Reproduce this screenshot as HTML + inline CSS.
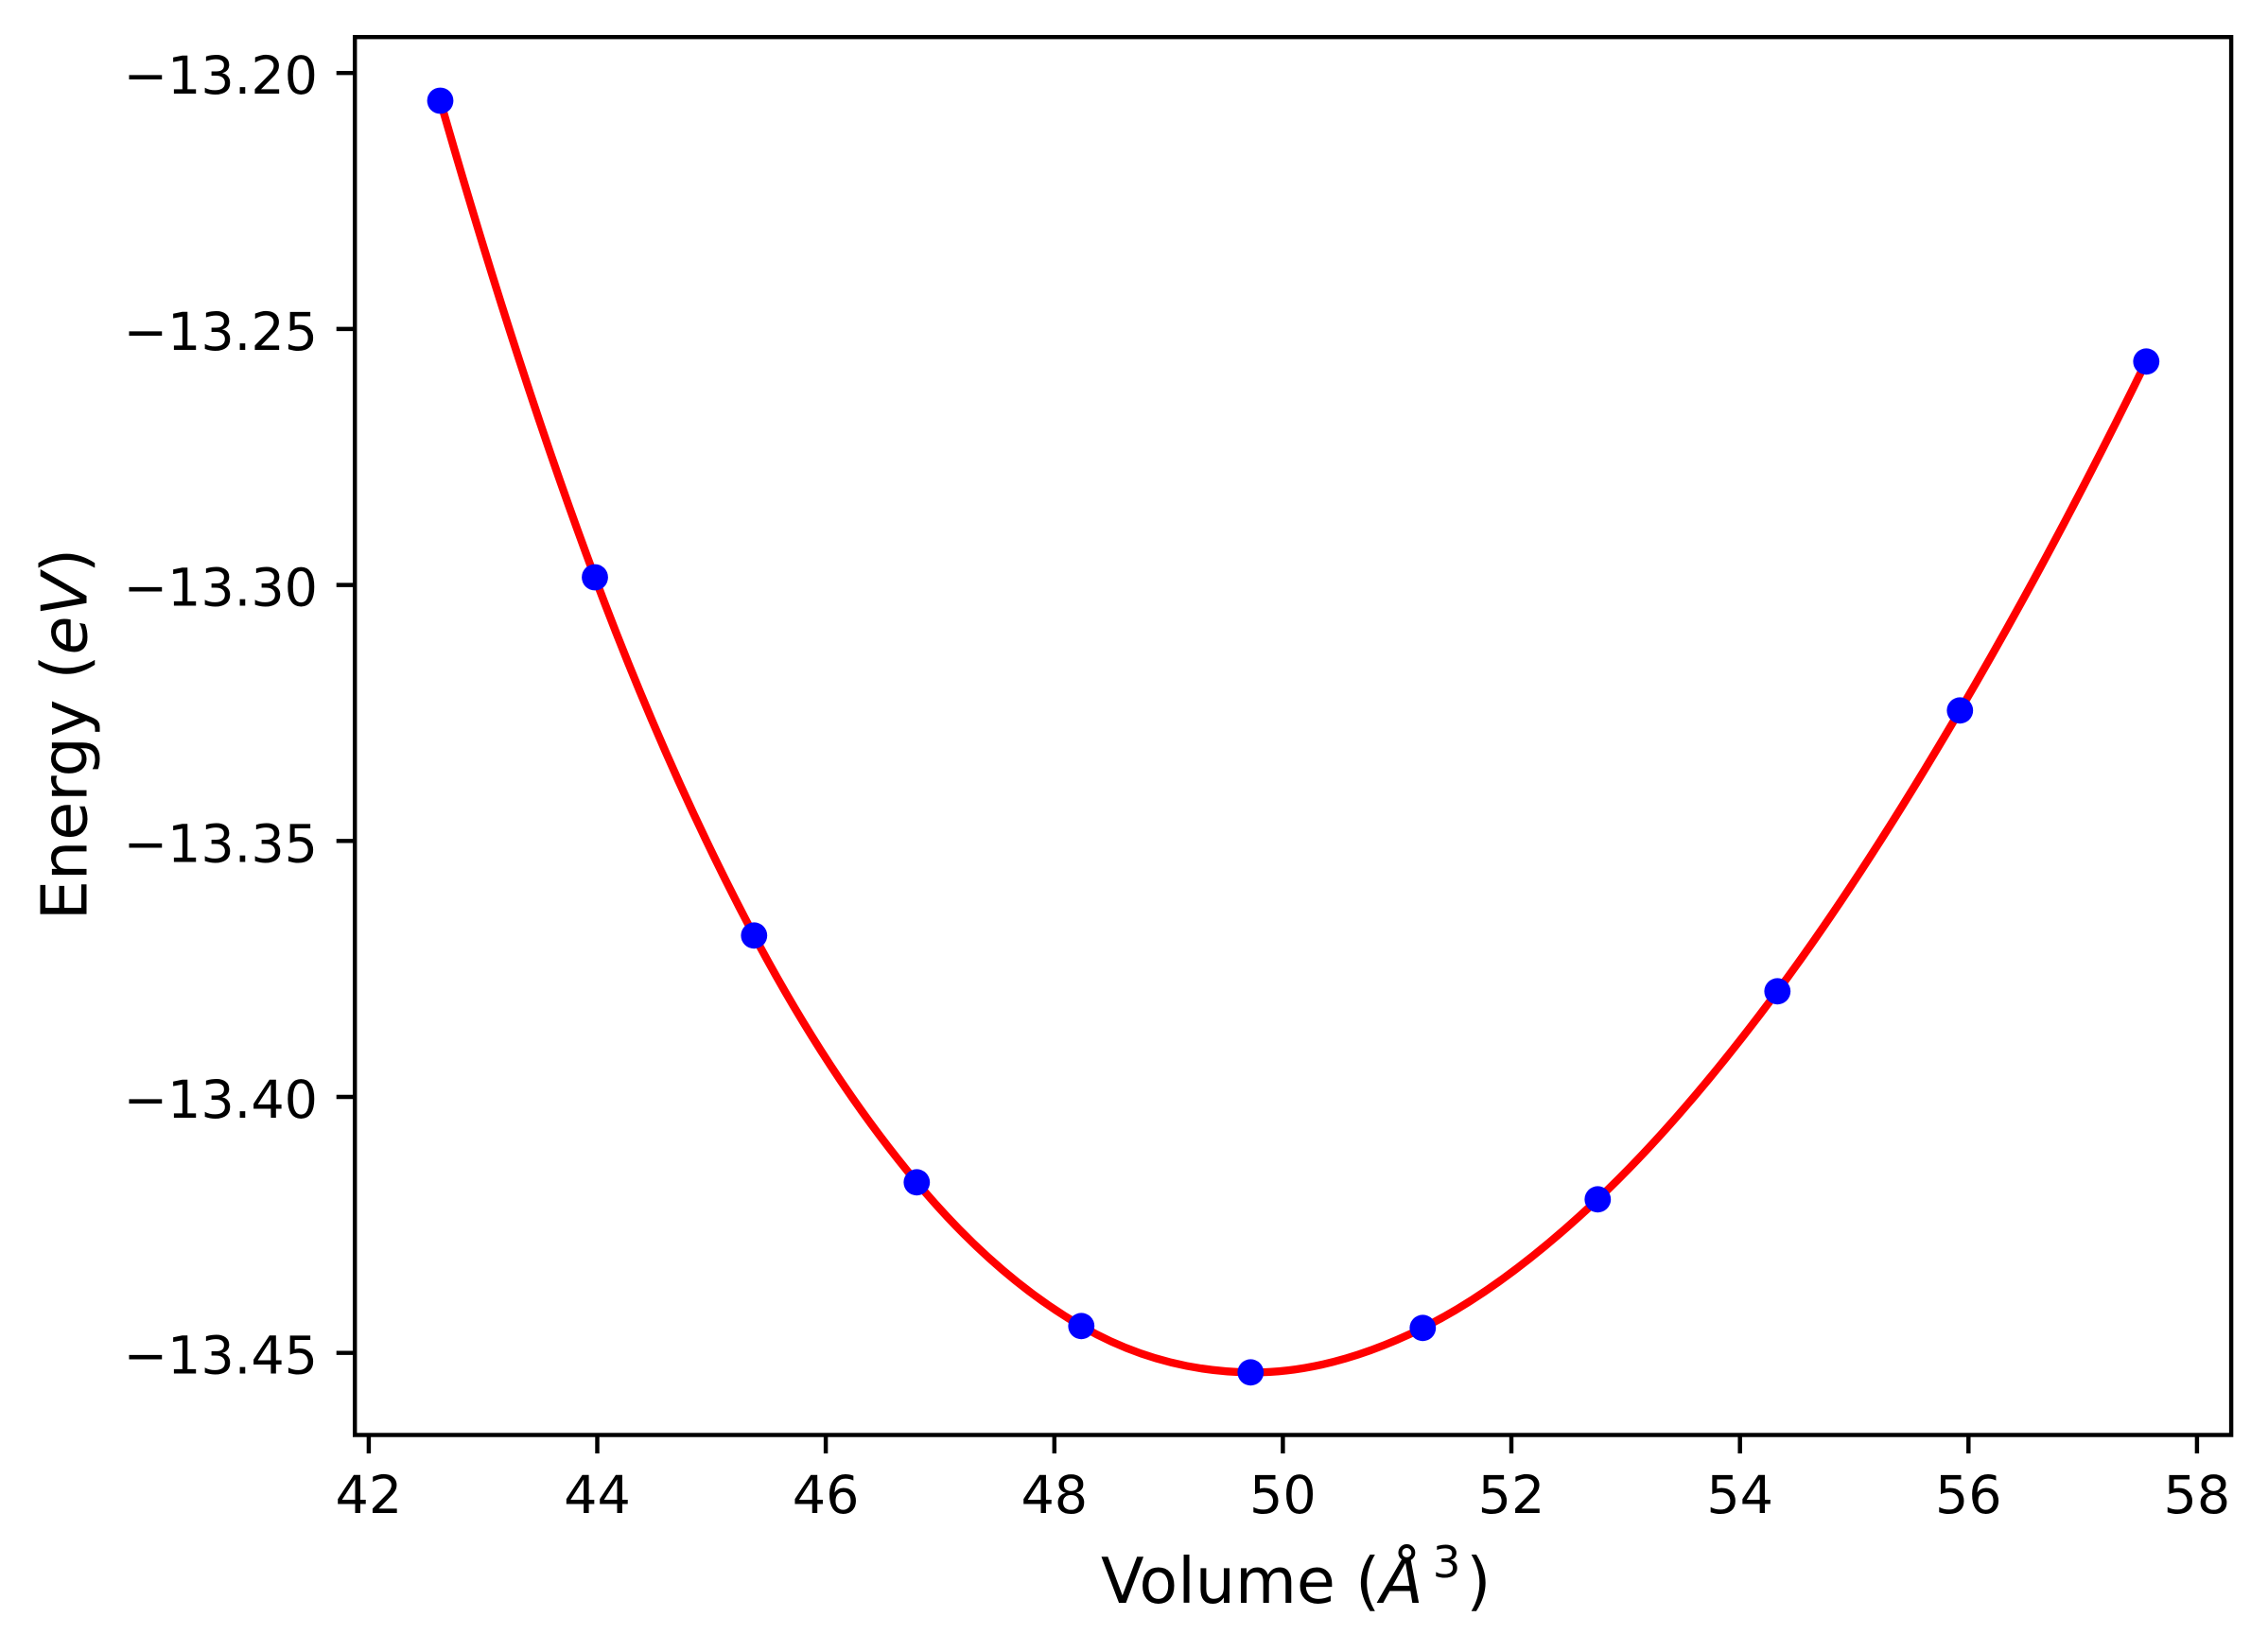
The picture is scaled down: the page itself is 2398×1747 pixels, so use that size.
<!DOCTYPE html>
<html>
<head>
<meta charset="utf-8">
<style>
  html, body { margin: 0; padding: 0; background: #ffffff; }
  svg { display: block; }
  text { font-family: "DejaVu Sans", "Liberation Sans", sans-serif; fill: #000; }
</style>
</head>
<body>
<svg width="2398" height="1747" viewBox="0 0 2398 1747" xmlns="http://www.w3.org/2000/svg">
  <rect x="0" y="0" width="2398" height="1747" fill="#ffffff"/>

  <!-- fitted curve -->
  <path d="M465.5,106.5
           C520,296.85 574.5,464.84 629,610.5
           C685.1,760.44 741.2,883.38 797.3,989.3
           C854.63,1097.55 911.97,1181.65 969.3,1250.3
           C1027.3,1319.75 1085.3,1368.78 1143.3,1402.3
           C1202.97,1436.78 1262.63,1450.71 1322.3,1451.3
           C1382.97,1451.9 1443.63,1434.31 1504.3,1404.3
           C1565.97,1373.79 1627.63,1326.49 1689.3,1268.3
           C1752.63,1208.53 1815.97,1133.6 1879.3,1048.3
           C1943.63,961.65 2007.97,860.94 2072.3,751.3
           C2137.97,639.38 2203.63,516.38 2269.3,382.3"
        fill="none" stroke="#ff0000" stroke-width="8.3" stroke-linecap="square" stroke-linejoin="round"/>

  <!-- data points -->
  <g fill="#0000ff">
    <circle cx="465.5" cy="106.5" r="13.9"/>
    <circle cx="629" cy="610.5" r="13.9"/>
    <circle cx="797.3" cy="989.3" r="13.9"/>
    <circle cx="969.3" cy="1250.3" r="13.9"/>
    <circle cx="1143.3" cy="1402.3" r="13.9"/>
    <circle cx="1322.3" cy="1451.3" r="13.9"/>
    <circle cx="1504.3" cy="1404.3" r="13.9"/>
    <circle cx="1689.3" cy="1268.3" r="13.9"/>
    <circle cx="1879.3" cy="1048.3" r="13.9"/>
    <circle cx="2072.3" cy="751.3" r="13.9"/>
    <circle cx="2269.3" cy="382.3" r="13.9"/>
  </g>

  <!-- axes frame -->
  <rect x="375.2" y="39.2" width="1983.9" height="1478.3" fill="none" stroke="#000" stroke-width="4.44" stroke-linejoin="miter"/>

  <!-- x ticks -->
  <g stroke="#000" stroke-width="4.44">
    <line x1="389.9" y1="1517.5" x2="389.9" y2="1537"/>
    <line x1="631.5" y1="1517.5" x2="631.5" y2="1537"/>
    <line x1="873.1" y1="1517.5" x2="873.1" y2="1537"/>
    <line x1="1114.8" y1="1517.5" x2="1114.8" y2="1537"/>
    <line x1="1356.4" y1="1517.5" x2="1356.4" y2="1537"/>
    <line x1="1598.0" y1="1517.5" x2="1598.0" y2="1537"/>
    <line x1="1839.7" y1="1517.5" x2="1839.7" y2="1537"/>
    <line x1="2081.3" y1="1517.5" x2="2081.3" y2="1537"/>
    <line x1="2322.9" y1="1517.5" x2="2322.9" y2="1537"/>
  </g>
  <g font-size="55.56" text-anchor="middle">
    <text x="389.9" y="1600">42</text>
    <text x="631.5" y="1600">44</text>
    <text x="873.1" y="1600">46</text>
    <text x="1114.8" y="1600">48</text>
    <text x="1356.4" y="1600">50</text>
    <text x="1598.0" y="1600">52</text>
    <text x="1839.7" y="1600">54</text>
    <text x="2081.3" y="1600">56</text>
    <text x="2322.9" y="1600">58</text>
  </g>

  <!-- y ticks -->
  <g stroke="#000" stroke-width="4.44">
    <line x1="375.2" y1="77.2" x2="355.7" y2="77.2"/>
    <line x1="375.2" y1="347.9" x2="355.7" y2="347.9"/>
    <line x1="375.2" y1="618.6" x2="355.7" y2="618.6"/>
    <line x1="375.2" y1="889.3" x2="355.7" y2="889.3"/>
    <line x1="375.2" y1="1160.0" x2="355.7" y2="1160.0"/>
    <line x1="375.2" y1="1430.7" x2="355.7" y2="1430.7"/>
  </g>
  <g font-size="55.56" text-anchor="end">
    <text x="336" y="99.2">−13.20</text>
    <text x="336" y="369.9">−13.25</text>
    <text x="336" y="640.6">−13.30</text>
    <text x="336" y="911.3">−13.35</text>
    <text x="336" y="1182.0">−13.40</text>
    <text x="336" y="1452.7">−13.45</text>
  </g>

  <!-- x label -->
  <text x="1164" y="1695" font-size="66.67">Volume (<tspan font-style="italic">Å</tspan><tspan dx="10" dy="-27" font-size="46.67">3</tspan><tspan dx="6" dy="27">)</tspan></text>

  <!-- y label -->
  <text transform="translate(91.7,776.5) rotate(-90)" text-anchor="middle" font-size="66.67">Energy (<tspan font-style="italic">eV</tspan>)</text>
</svg>
</body>
</html>
